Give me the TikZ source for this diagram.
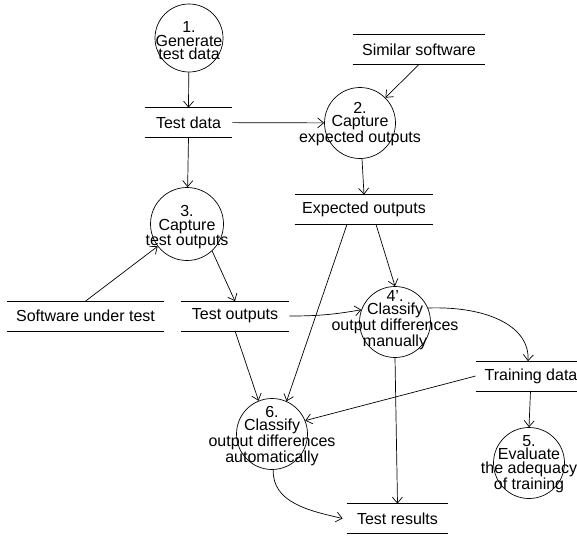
\documentclass[tikz,border=0pt]{standalone}
\usepackage{fontspec}
\setmainfont{Liberation Sans}
\usetikzlibrary{arrows.meta}
\begin{document}
\begin{tikzpicture}[x=1pt,y=-1pt,
  every node/.style={font=\fontsize{16}{13.5}\selectfont},
  proc/.style={draw, circle, minimum size=71pt, inner sep=0pt},
  ptext/.style={align=center, inner sep=0pt},
  store/.style={minimum height=29pt, inner sep=0pt},
  flow/.style={-{Straight Barb[length=6pt,width=10pt]}},
  line width=0.7pt]
\useasboundingbox (0,0) rectangle (577,536);

% processes (circles) and their captions
\node[proc, minimum size=68pt] (p1) at (189,38) {};
\node[ptext] (p1t) at ([yshift=-3pt]p1) {1.\\Generate\\test data};
\node[proc] (p2) at (360,123) {};
\node[ptext] (p2t) at ([yshift=-1pt]p2) {2.\\Capture\\expected outputs};
\node[proc, minimum size=73pt] (p3) at (187,224) {};
\node[ptext] (p3t) at ([yshift=-3pt]p3) {3.\\Capture\\test outputs};
\node[proc] (p4) at (395,322) {};
\node[ptext] (p4t) at ([yshift=2pt]p4) {4’.\\Classify\\output differences\\manually};
\node[proc] (p5) at (529,463) {};
\node[ptext] (p5t) at ([yshift=-1pt]p5) {5.\\Evaluate\\the adequacy\\of training};
\node[proc] (p6) at (272,434) {};
\node[ptext] (p6t) at ([yshift=-2pt]p6) {6.\\Classify\\output differences\\automatically};

% data stores (open rectangles)
\node[store, minimum width=87pt] (td) at (188.5,122.5) {Test data};
\node[store, minimum width=132pt] (ss) at (419,49.5) {Similar software};
\node[store, minimum width=138pt] (eo) at (364,209.5) {Expected outputs};
\node[store, minimum width=157pt] (sut) at (85.5,316) {Software under test};
\node[store, minimum width=108pt] (to) at (235,316) {Test outputs};
\node[store, minimum width=101pt] (trd) at (526.5,376) {};
\node[inner sep=0pt] (trdt) at (531,376) {Training data};
\node[store, minimum width=101pt] (tr) at (397.5,518.5) {Test results};
\foreach \s in {td,ss,eo,sut,to,trd,tr}
  \draw (\s.north west) -- (\s.north east) (\s.south west) -- (\s.south east);

% data flows
\draw[flow] (p1) -- (td.north);
\draw[flow] (td) -- (p2);
\draw[flow] (ss.south) -- (p2);
\draw[flow] (p2) -- (eo.north);
\draw[flow] (td.south) -- (p3);
\draw[flow] (sut.north) -- (p3);
\draw[flow] (p3.-47) -- (to.north);
\draw[flow] ([xshift=12pt]eo.south) -- (p4.north);
\draw[flow] ([xshift=-17pt]eo.south) -- (p6.66);
\draw[flow] (to.south) -- (p6.112);
\draw[flow] (to.east) to[out=0,in=190] (p4.160);
\draw[flow] (p4.23) .. controls (485,306) and (530,325) .. ([xshift=1.5pt]trd.north);
\draw[flow] (trd.west) -- (p6.22);
\draw[flow] ([xshift=4pt]trd.south) -- (p5.north);
\draw[flow] (p4.south) -- (tr.north);
\draw[flow] (p6.-88) to[out=-92,in=167] ([xshift=-4pt]tr.west);
\end{tikzpicture}
\end{document}
